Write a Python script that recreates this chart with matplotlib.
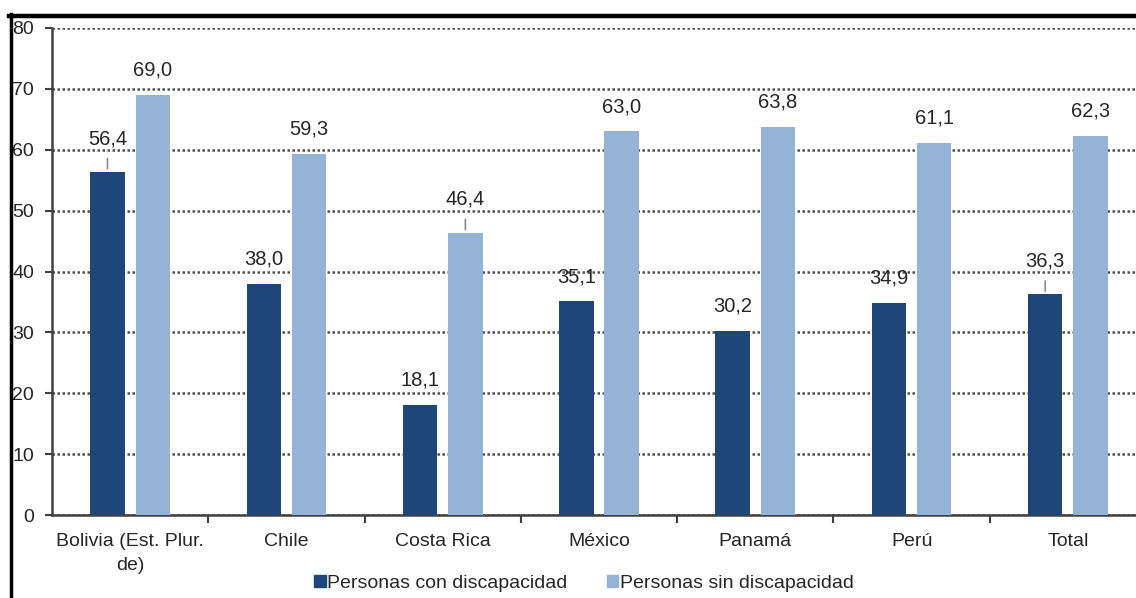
import numpy as np
import matplotlib.pyplot as plt
from matplotlib.lines import Line2D
from matplotlib.patches import Patch

plt.rcParams['font.family'] = ['Liberation Sans', 'DejaVu Sans']

# Data
categories = ["Bolivia (Est. Plur.\nde)", "Chile", "Costa Rica", "México", "Panamá", "Perú", "Total"]
con_disc = [56.4, 38.0, 18.1, 35.1, 30.2, 34.9, 36.3]
sin_disc = [69.0, 59.3, 46.4, 63.0, 63.8, 61.1, 62.3]
series_names = ["Personas con discapacidad", "Personas sin discapacidad"]
# labels that sit on a small leader line
leader_con = [True, False, False, False, False, False, True]
leader_sin = [False, False, True, False, False, False, False]

dark = "#1F4678"
light = "#95B3D7"
txt = "#262626"

fig = plt.figure(figsize=(11.36, 5.98), dpi=100)
ax = fig.add_axes([52/1136, 83/598, 1094/1136, 487/598])

x = np.arange(len(categories))
w = 0.22
off = 0.145
b1 = ax.bar(x - off, con_disc, w, color=dark, zorder=3)
b2 = ax.bar(x + off, sin_disc, w, color=light, zorder=3)

def label(xs, vals, leaders):
    for xi, v, ld in zip(xs, vals, leaders):
        s = f"{v:.1f}".replace(".", ",")
        if ld:
            ax.annotate("", xy=(xi, v), xytext=(xi, v + 2.6),
                        arrowprops=dict(arrowstyle="-", color="#8c8c8c", lw=1.2))
            ax.annotate(s, (xi, v), xytext=(0, 17), textcoords="offset points",
                        ha="center", va="bottom", fontsize=14.5, color=txt)
        else:
            ax.annotate(s, (xi, v), xytext=(0, 11), textcoords="offset points",
                        ha="center", va="bottom", fontsize=14.5, color=txt)

label(x - off, con_disc, leader_con)
label(x + off, sin_disc, leader_sin)

ax.set_xlim(-0.5, len(categories) - 0.5)
ax.set_ylim(0, 80)
ax.set_yticks(np.arange(0, 81, 10))
ax.yaxis.grid(True, linestyle=(0, (1, 1)), color="#505050", linewidth=1.8, zorder=0)
ax.set_axisbelow(True)

ax.set_xticks(x)
ax.set_xticklabels(categories, fontsize=14, color=txt, linespacing=1.5)
ax.set_xticks(np.arange(0.5, len(categories) - 0.5, 1), minor=True)
ax.tick_params(axis="x", which="major", length=0, pad=13)
ax.tick_params(axis="x", which="minor", length=6, width=1.5, color="#404040", direction="out")
ax.tick_params(axis="y", length=5, width=1.5, color="#404040", labelsize=14, labelcolor=txt, pad=8)

for s in ["top", "right"]:
    ax.spines[s].set_visible(False)
for s in ["left", "bottom"]:
    ax.spines[s].set_color("#404040")
    ax.spines[s].set_linewidth(1.8)

handles = [Patch(color=dark), Patch(color=light)]
fig.legend(handles, series_names, loc="center", bbox_to_anchor=(584/1136, 0.025),
           ncol=2, frameon=False, fontsize=14, handlelength=0.6, handleheight=0.6,
           handletextpad=0.1, columnspacing=2.0, labelcolor=txt)

# black frame at top and left of the picture
fig.add_artist(Line2D([9/1136, 1.0], [1 - 15.5/598, 1 - 15.5/598], color="black", lw=3.2,
                      transform=fig.transFigure))
fig.add_artist(Line2D([10.5/1136, 10.5/1136], [0, 1 - 14/598], color="black", lw=2.5,
                      transform=fig.transFigure))

fig.savefig("out.png", dpi=100)
